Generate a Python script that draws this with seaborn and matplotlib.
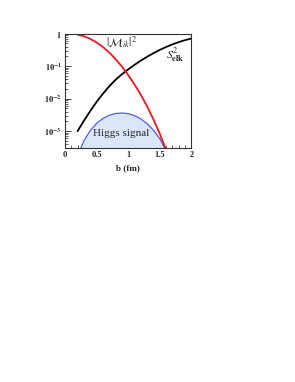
import matplotlib
matplotlib.use("Agg")
import matplotlib.pyplot as plt
import seaborn as sns
import numpy as np
import pandas as pd
from matplotlib.ticker import LogLocator, FixedLocator, NullFormatter

# data (log10 values)
b_m = [0.2, 0.3, 0.4, 0.5, 0.6, 0.7, 0.8, 0.9, 1.0, 1.1, 1.2, 1.3, 1.4, 1.5, 1.6]
log_m = [-0.03, -0.08, -0.16, -0.27, -0.41, -0.58, -0.78, -1.01, -1.27, -1.56, -1.88, -2.24,
         -2.64, -3.08, -3.58]

b_s = [0.2, 0.3, 0.4, 0.5, 0.6, 0.7, 0.8, 0.9, 1.0, 1.1, 1.2, 1.3, 1.4, 1.5, 1.6, 1.7, 1.8, 1.9, 2.0]
log_s = [-3.0, -2.68, -2.38, -2.1, -1.85, -1.62, -1.42, -1.25, -1.1, -0.96, -0.83, -0.71, -0.6,
         -0.5, -0.41, -0.33, -0.26, -0.2, -0.15]

b_h = [0.25, 0.3, 0.4, 0.5, 0.6, 0.7, 0.8, 0.9, 1.0, 1.1, 1.2, 1.3, 1.4, 1.5, 1.58]
log_h = [-3.53, -3.3, -2.98, -2.76, -2.61, -2.51, -2.455, -2.44, -2.46, -2.52, -2.62, -2.77,
         -2.97, -3.23, -3.53]

x_ticks = [0, 0.5, 1, 1.5, 2]
x_ticklabels = ["0", "0.5", "1", "1.5", "2"]
y_ticks = [1e-3, 1e-2, 1e-1, 1]
y_ticklabels = [r"$\mathbf{10^{-3}}$", r"$\mathbf{10^{-2}}$", r"$\mathbf{10^{-1}}$", r"$\mathbf{1}$"]

sns.set_style("white")
plt.rcParams["font.family"] = ["Liberation Serif", "DejaVu Serif"]
plt.rcParams["mathtext.fontset"] = "stix"

fig = plt.figure(figsize=(2.95, 3.82), dpi=100)
ax = fig.add_axes([0.22, 0.612, 0.429, 0.3])

df_m = pd.DataFrame({"b": b_m, "v": 10 ** np.array(log_m)})
df_s = pd.DataFrame({"b": b_s, "v": 10 ** np.array(log_s)})
df_h = pd.DataFrame({"b": b_h, "v": 10 ** np.array(log_h)})

ymin, ymax = 3e-4, 1.0
ax.fill_between(df_h["b"], df_h["v"], ymin, color="#dbe6fb", lw=0)
sns.lineplot(data=df_h, x="b", y="v", ax=ax, color="#4d5cf0", lw=0.9)
sns.lineplot(data=df_s, x="b", y="v", ax=ax, color="black", lw=1.3)
sns.lineplot(data=df_m, x="b", y="v", ax=ax, color="#f0141e", lw=1.3)

ax.set_yscale("log")
ax.set_xlim(0, 2)
ax.set_ylim(ymin, ymax)

ax.set_xticks(x_ticks)
ax.set_xticklabels(x_ticklabels, fontsize=6, fontweight="bold")
ax.xaxis.set_minor_locator(FixedLocator(np.arange(0, 2.01, 0.1)))
ax.set_yticks(y_ticks)
ax.set_yticklabels(y_ticklabels, fontsize=6)
ax.yaxis.set_minor_locator(LogLocator(base=10, subs=np.arange(2, 10)))
ax.yaxis.set_minor_formatter(NullFormatter())
ax.tick_params(which="major", direction="in", length=4, width=0.6, pad=2,
               top=False, right=False, left=True, bottom=True)
ax.tick_params(which="minor", direction="in", length=2, width=0.5,
               top=False, right=False, left=True, bottom=True)

for s in ax.spines.values():
    s.set_linewidth(0.8)
    s.set_color("#333333")

ax.set_xlabel("b (fm)", fontsize=6.5, fontweight="bold", labelpad=4)
ax.set_ylabel("")

ax.text(0.65, 0.55, r"$|\mathcal{M}_{ik}|^2$", fontsize=8.5, ha="left", va="center")
ax.text(1.59, 0.22, r"$S^2_{\mathbf{elk}}$", fontsize=8.5, ha="left", va="center")
ax.text(0.89, 8.3e-4, "Higgs signal", fontsize=8, ha="center", va="center")

fig.savefig("out.png", dpi=100)
